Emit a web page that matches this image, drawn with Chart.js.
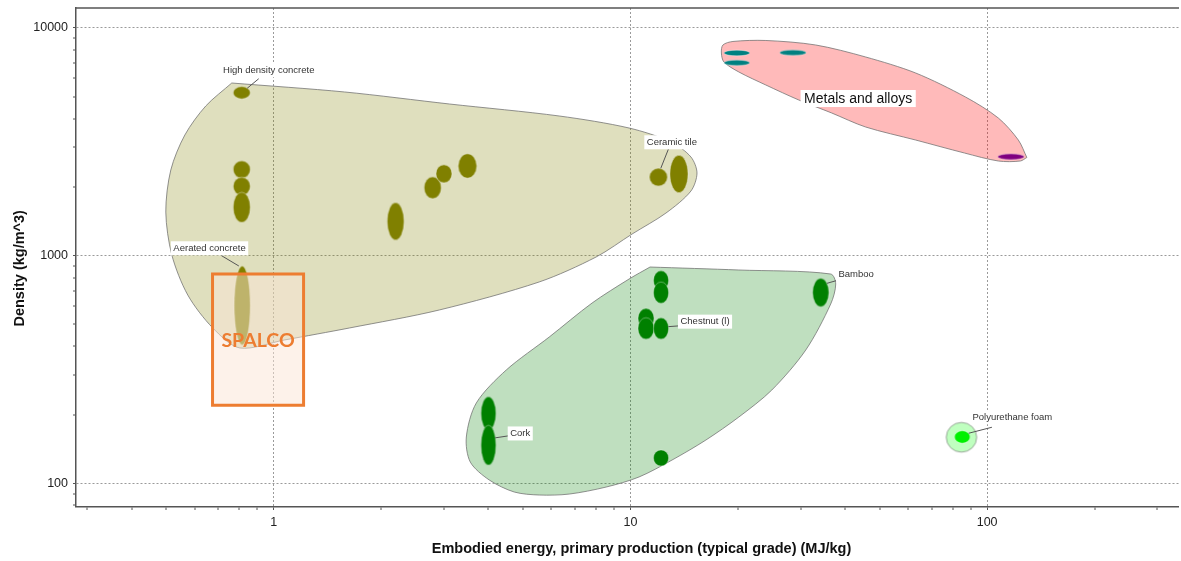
<!DOCTYPE html>
<html>
<head>
<meta charset="utf-8">
<script src="https://cdn.jsdelivr.net/npm/chart.js@4.4.1/dist/chart.umd.min.js"></script>
<style>
  html, body { margin: 0; padding: 0; background: #ffffff; }
  #wrap { width: 1181px; height: 561px; position: relative; }
</style>
</head>
<body>
<div id="wrap"><canvas id="chart"></canvas></div>
<script>
// ---- Axis ticks (log scales) ----
const xTickValues = [0.3, 0.4, 0.5, 0.6, 0.7, 0.8, 0.9, 1, 2, 3, 4, 5, 6, 7, 8, 9,
                     10, 20, 30, 40, 50, 60, 70, 80, 90, 100, 200, 300];
const xTickLabels = [1, 10, 100];
const yTickValues = [80, 90, 100, 200, 300, 400, 500, 600, 700, 800, 900,
                     1000, 2000, 3000, 4000, 5000, 6000, 7000, 8000, 9000, 10000];
const yTickLabels = [100, 1000, 10000];

// ---- Materials: [low, high] ranges ----
// Embodied energy (MJ/kg) and density (kg/m^3)
const ceramicsNames = ['High density concrete', '', '', '', 'Aerated concrete', '', '', '', '', 'Ceramic tile', ''];
const ceramicsEnergy = [[0.77, 0.86], [0.77, 0.86], [0.77, 0.86], [0.77, 0.86], [0.775, 0.86],
                        [2.08, 2.32], [2.64, 2.95], [2.85, 3.16], [3.29, 3.71], [11.3, 12.7], [12.9, 14.5]];
const ceramicsDensity = [[4880, 5530], [2190, 2610], [1840, 2210], [1400, 1900], [405, 900],
                         [1170, 1710], [1780, 2220], [2090, 2510], [2190, 2800], [2020, 2420], [1890, 2760]];

const naturalsNames = ['', '', '', '', 'Chestnut (l)', '', '', 'Cork', 'Bamboo'];
const naturalsEnergy = [[11.6, 12.8], [11.6, 12.8], [10.5, 11.65], [10.5, 11.65], [11.6, 12.8],
                        [11.6, 12.8], [3.81, 4.2], [3.81, 4.2], [32.4, 36.0]];
const naturalsDensity = [[706, 859], [617, 766], [479, 587], [429, 534], [429, 534],
                         [119, 140], [171, 240], [120, 180], [596, 795]];

const ferrousEnergy = [[18.3, 21.6], [18.3, 21.6], [26.2, 31.1]];
const ferrousDensity = [[7550, 7990], [6840, 7230], [7580, 8010]];
const nonFerrousEnergy = [[107, 127]];
const nonFerrousDensity = [[2640, 2800]];

const foamsNames = ['Polyurethane foam'];
const foamsEnergy = [[81, 89.6]];
const foamsDensity = [[150, 170]];
const foamsEnvelopeEnergy = [[76.8, 93.5]];
const foamsEnvelopeDensity = [[137, 185]];

// ---- Family envelopes (outline vertices) ----
const ceramicsHullEnergy = [0.763, 1.58, 3.108, 6.315, 9.913, 13.0, 14.78, 15.37, 14.78, 12.58, 10.11, 8.014,
                            5.551, 2.914, 1.632, 1.073, 0.803, 0.675, 0.5745, 0.5183, 0.4985, 0.5148, 0.5637, 0.6452];
const ceramicsHullDensity = [5732, 5235, 4636, 4106, 3636, 3156, 2712, 2306, 1922, 1538, 1244, 986,
                             766, 577, 481, 426, 393, 481, 671, 1006, 1554, 2377, 3388, 4543];
const naturalsHullEnergy = [11.35, 20.14, 36.43, 37.63, 36.43, 31.01, 24.91, 20.14, 16.28, 13.08, 10.57, 8.549,
                            6.735, 5.551, 4.725, 4.022, 3.558, 3.468, 3.699, 4.487, 5.921, 7.809, 9.913];
const naturalsHullDensity = [891, 864.5, 830, 750, 612.7, 384.7, 256.7, 195.4, 154.8, 126.4, 106.5, 96.2,
                             89.6, 88.75, 91.5, 103.3, 123.9, 159.6, 225.2, 314.3, 438.8, 619, 789];
const metalsHullEnergy = [129.2, 123.9, 107.5, 86.41, 63.02, 45.65, 36.67, 29.65, 23.97, 20.14, 18.29,
                          17.99, 18.17, 19.38, 23.97, 33.07, 45.65, 63.02, 86.96, 107.5, 122.3];
const metalsHullDensity = [2698, 2604, 2604, 2823, 3220, 3673, 4232, 4827, 5617, 6408, 7089,
                           7766, 8421, 8725, 8813, 8421, 7458, 6344, 4975, 4022, 3220];

// ---- SPALCO target window ----
const spalcoEnergy = [0.674, 1.213];
const spalcoDensity = [220, 830];

// ---- Helpers ----
const FONT = '"Liberation Sans", Arial, Helvetica, sans-serif';

function bubbles(energy, density) {
  return energy.map((e, i) => ({
    x: Math.sqrt(e[0] * e[1]),
    y: Math.sqrt(density[i][0] * density[i][1]),
    xLo: e[0], xHi: e[1], yLo: density[i][0], yHi: density[i][1]
  }));
}

function outline(energy, density) {
  const pts = energy.map((e, i) => ({ x: e, y: density[i] }));
  pts.push({ x: energy[0], y: density[0] });
  return pts;
}

function box(energy, density) {
  return [
    { x: energy[0], y: density[0] }, { x: energy[1], y: density[0] },
    { x: energy[1], y: density[1] }, { x: energy[0], y: density[1] },
    { x: energy[0], y: density[0] }
  ];
}

// Point style: an ellipse spanning the material's [low, high] ranges on both log axes
function ellipseStyle(fill, stroke) {
  return (ctx) => {
    const raw = ctx.raw;
    const sc = ctx.chart.scales;
    if (!raw || raw.xLo === undefined || !sc.x || !sc.y) return 'circle';
    const rx = Math.abs(sc.x.getPixelForValue(raw.xHi) - sc.x.getPixelForValue(raw.xLo)) / 2;
    const ry = Math.abs(sc.y.getPixelForValue(raw.yHi) - sc.y.getPixelForValue(raw.yLo)) / 2;
    const cv = document.createElement('canvas');
    cv.width = Math.ceil(rx) * 2 + 4;
    cv.height = Math.ceil(ry) * 2 + 4;
    const g = cv.getContext('2d');
    g.beginPath();
    g.ellipse(cv.width / 2, cv.height / 2, rx, ry, 0, 0, Math.PI * 2);
    g.fillStyle = fill;
    g.fill();
    if (stroke) { g.lineWidth = 1; g.strokeStyle = stroke; g.stroke(); }
    return cv;
  };
}

function envelope(energy, density, fill) {
  return {
    data: outline(energy, density),
    showLine: true,
    fill: 'shape',
    backgroundColor: fill,
    borderColor: 'rgba(110,110,110,0.75)',
    borderWidth: 1,
    tension: 0.3,
    pointRadius: 0,
    order: 3
  };
}

function materials(id, energy, density, color) {
  return {
    id: id,
    data: bubbles(energy, density),
    pointStyle: ellipseStyle(color, 'rgba(255,255,255,0.35)'),
    pointRadius: 1,
    pointHoverRadius: 1,
    order: 1
  };
}

const datasets = [
  envelope(ceramicsHullEnergy, ceramicsHullDensity, 'rgba(128,128,0,0.255)'),
  envelope(naturalsHullEnergy, naturalsHullDensity, 'rgba(0,128,0,0.25)'),
  envelope(metalsHullEnergy, metalsHullDensity, 'rgba(255,0,0,0.27)'),
  {
    data: bubbles(foamsEnvelopeEnergy, foamsEnvelopeDensity),
    pointStyle: ellipseStyle('rgba(0,255,0,0.25)', 'rgba(110,110,110,0.6)'),
    pointRadius: 1, pointHoverRadius: 1, order: 3
  },
  materials('ceramics', ceramicsEnergy, ceramicsDensity, '#808000'),
  materials('naturals', naturalsEnergy, naturalsDensity, '#008000'),
  materials('ferrous', ferrousEnergy, ferrousDensity, '#008080'),
  materials('nonferrous', nonFerrousEnergy, nonFerrousDensity, '#800080'),
  materials('foams', foamsEnergy, foamsDensity, '#00f000'),
  {
    id: 'spalco',
    data: box(spalcoEnergy, spalcoDensity),
    showLine: true,
    fill: 'shape',
    backgroundColor: 'rgba(251,229,214,0.5)',
    borderColor: '#ED7D31',
    borderWidth: 3,
    borderJoinStyle: 'miter',
    borderCapStyle: 'square',
    tension: 0,
    pointRadius: 0,
    order: 0
  }
];

// Callouts: text comes from the names arrays; offsets (px) relative to the bubble centre
const callouts = [
  { set: 'ceramics', names: ceramicsNames, i: 0, dx: 27, dy: -22.5, sx: 5.5, sy: -4.5, ex: 17, ey: -14 },
  { set: 'ceramics', names: ceramicsNames, i: 4, dx: -32.7, dy: -57.2, sx: -3.4, sy: -39.5, ex: -21, ey: -50 },
  { set: 'ceramics', names: ceramicsNames, i: 9, dx: 13.5, dy: -34.9, sx: 2.4, sy: -8.9, ex: 10, ey: -28 },
  { set: 'naturals', names: naturalsNames, i: 8, dx: 35.5, dy: -18.5, sx: 6.3, sy: -9.2, ex: 16, ey: -12 },
  { set: 'naturals', names: naturalsNames, i: 4, dx: 44, dy: -6.8, sx: 7.3, sy: -1.8, ex: 17, ey: -2.5 },
  { set: 'naturals', names: naturalsNames, i: 7, dx: 31.8, dy: -11.7, sx: 6.8, sy: -7.3, ex: 20, ey: -9.3 },
  { set: 'foams', names: foamsNames, i: 0, dx: 50, dy: -19.7, sx: 6.3, sy: -3.7, ex: 29.6, ey: -9.7 }
];
const familyLabels = [{ text: 'Metals and alloys', x: 43.5, y: 4900 }];

function datasetById(chart, id) {
  const idx = chart.data.datasets.findIndex(d => d.id === id);
  return chart.getDatasetMeta(idx);
}

const decorations = {
  id: 'decorations',
  afterDatasetsDraw(chart) {
    const { ctx, scales: { x, y } } = chart;
    ctx.save();

    // SPALCO caption centred in its window
    const sx = x.getPixelForValue(Math.sqrt(spalcoEnergy[0] * spalcoEnergy[1]));
    const sy = y.getPixelForValue(Math.sqrt(spalcoDensity[0] * spalcoDensity[1]));
    ctx.font = 'bold 19.5px Lato, "Open Sans", sans-serif';
    ctx.fillStyle = '#ED7D31';
    ctx.textAlign = 'center';
    ctx.textBaseline = 'alphabetic';
    ctx.fillText('SPALCO', sx, sy + 7);

    // Material callouts
    ctx.font = '9.5px ' + FONT;
    callouts.forEach(c => {
      const el = datasetById(chart, c.set).data[c.i];
      const px = el.x, py = el.y;
      const text = c.names[c.i];
      ctx.strokeStyle = '#555';
      ctx.lineWidth = 1;
      ctx.beginPath();
      ctx.moveTo(px + c.sx, py + c.sy);
      ctx.lineTo(px + c.ex, py + c.ey);
      ctx.stroke();
      const w = ctx.measureText(text).width;
      const tx = px + c.dx, ty = py + c.dy;
      ctx.fillStyle = '#ffffff';
      ctx.fillRect(tx - w / 2 - 2.5, ty - 7, w + 5, 14);
      ctx.fillStyle = '#333333';
      ctx.textAlign = 'center';
      ctx.textBaseline = 'middle';
      ctx.fillText(text, tx, ty);
    });

    // Family labels
    ctx.font = '14px ' + FONT;
    familyLabels.forEach(l => {
      const tx = x.getPixelForValue(l.x), ty = y.getPixelForValue(l.y);
      const w = ctx.measureText(l.text).width;
      ctx.fillStyle = '#ffffff';
      ctx.fillRect(tx - w / 2 - 3.5, ty - 8.5, w + 7, 17);
      ctx.fillStyle = '#111111';
      ctx.textAlign = 'center';
      ctx.textBaseline = 'middle';
      ctx.fillText(l.text, tx, ty + 0.5);
    });
    ctx.restore();
  },
  afterDraw(chart) {
    const { ctx, chartArea: a } = chart;
    ctx.save();
    // top frame line
    ctx.strokeStyle = '#555';
    ctx.lineWidth = 1.5;
    ctx.beginPath();
    ctx.moveTo(a.left, a.top);
    ctx.lineTo(a.right, a.top);
    ctx.stroke();

    // axis titles
    ctx.fillStyle = '#111';
    ctx.font = 'bold 14.5px ' + FONT;
    ctx.textAlign = 'center';
    ctx.textBaseline = 'alphabetic';
    ctx.fillText('Embodied energy, primary production (typical grade) (MJ/kg)', 641.5, 552.7);
    ctx.translate(24, 268.3);
    ctx.rotate(-Math.PI / 2);
    ctx.fillText('Density (kg/m^3)', 0, 0);
    ctx.restore();
  }
};

const isMajor = (list) => (c) => !!(c && c.tick && list.includes(c.tick.value));
const majorX = isMajor(xTickLabels);
const majorY = isMajor(yTickLabels);

function zeroPadding(s) {
  s.paddingLeft = 0; s.paddingRight = 0; s.paddingTop = 0; s.paddingBottom = 0;
}

Chart.defaults.font.family = FONT;

new Chart(document.getElementById('chart'), {
  type: 'scatter',
  data: { datasets: datasets },
  options: {
    responsive: true,
    maintainAspectRatio: false,
    devicePixelRatio: 1,
    animation: false,
    events: [],
    layout: { padding: { top: 8, right: 0, bottom: 0, left: 0 } },
    plugins: { legend: { display: false }, tooltip: { enabled: false } },
    scales: {
      x: {
        type: 'logarithmic',
        position: 'bottom',
        min: 0.2792,
        max: 345,
        afterBuildTicks: s => { s.ticks = xTickValues.map(v => ({ value: v })); },
        afterFit: s => { s.height = 54; zeroPadding(s); },
        ticks: {
          autoSkip: false, maxRotation: 0, minRotation: 0, padding: 5,
          color: '#222', font: { size: 12.5 },
          callback: v => xTickLabels.includes(v) ? String(v) : ''
        },
        grid: {
          color: c => majorX(c) ? '#9a9a9a' : 'rgba(0,0,0,0)',
          lineWidth: c => majorX(c) ? 1 : 0,
          tickLength: 3, tickWidth: 1, tickColor: '#555'
        },
        border: { display: true, color: '#555', width: 1.5, dash: [2, 2] }
      },
      y: {
        type: 'logarithmic',
        position: 'left',
        min: 78.62,
        max: 12242,
        afterBuildTicks: s => { s.ticks = yTickValues.map(v => ({ value: v })); },
        afterFit: s => { s.width = 76; zeroPadding(s); },
        ticks: {
          autoSkip: false, padding: 5,
          color: '#222', font: { size: 12.5 },
          callback: v => yTickLabels.includes(v) ? String(v) : ''
        },
        grid: {
          color: c => majorY(c) ? '#9a9a9a' : 'rgba(0,0,0,0)',
          lineWidth: c => majorY(c) ? 1 : 0,
          tickLength: 3, tickWidth: 1, tickColor: '#555'
        },
        border: { display: true, color: '#555', width: 1.5, dash: [2, 2] }
      }
    }
  },
  plugins: [decorations]
});
</script>
</body>
</html>
